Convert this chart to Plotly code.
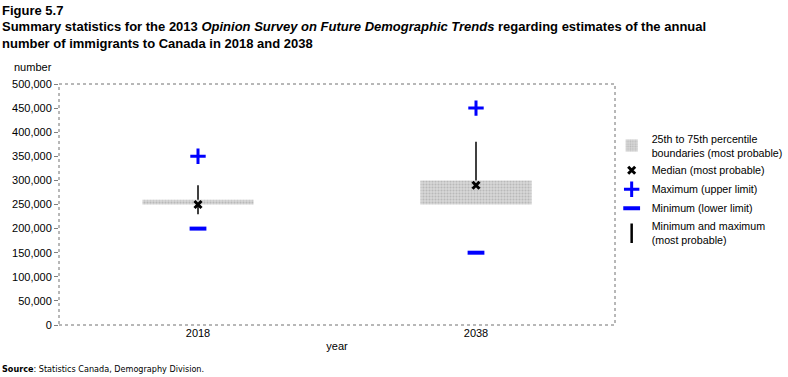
import plotly.graph_objects as go

years = ["2018", "2038"]
q25 = [250000, 250000]
q75 = [260000, 300000]
median = [250000, 290000]
mp_min = [230000, 250000]
mp_max = [290000, 380000]
upper_limit = [350000, 450000]
lower_limit = [200000, 150000]

yticks = list(range(0, 500001, 50000))
ytick_text = [f"{v:,}" for v in yticks]

font_main = "Liberation Sans, Arial, sans-serif"
font_title = "Liberation Sans, Arial, sans-serif"

fig = go.Figure()

# whiskers (min and max most probable), drawn outside the box
for i, yr in enumerate(years):
    if mp_max[i] > q75[i]:
        fig.add_trace(go.Scatter(x=[yr, yr], y=[q75[i], mp_max[i]], mode="lines",
                                 line=dict(color="black", width=1.5), showlegend=False,
                                 hoverinfo="skip"))
    if mp_min[i] < q25[i]:
        fig.add_trace(go.Scatter(x=[yr, yr], y=[mp_min[i], q25[i]], mode="lines",
                                 line=dict(color="black", width=1.5), showlegend=False,
                                 hoverinfo="skip"))

fig.add_trace(go.Bar(
    x=years, y=[b - a for a, b in zip(q25, q75)], base=q25, width=0.4,
    name="25th to 75th percentile<br>boundaries (most probable)",
    marker=dict(color="#d4d4d4", line=dict(width=0),
                pattern=dict(shape=".", fgcolor="#9a9a9a", bgcolor="#d8d8d8", size=3, solidity=0.4)),
))

fig.add_trace(go.Scatter(
    x=years, y=median, mode="markers", name="Median (most probable)",
    marker=dict(symbol="x-thin", size=7, color="black", line=dict(color="black", width=3)),
))
fig.add_trace(go.Scatter(
    x=years, y=upper_limit, mode="markers", name="Maximum (upper limit)",
    marker=dict(symbol="cross-thin", size=11, color="#0000ff", line=dict(color="#0000ff", width=3)),
))
fig.add_trace(go.Scatter(
    x=years, y=lower_limit, mode="markers", name="Minimum (lower limit)",
    marker=dict(symbol="line-ew", size=12, color="#0000ff", line=dict(color="#0000ff", width=4)),
))
fig.add_trace(go.Scatter(
    x=[None], y=[None], mode="markers", name="Minimum and maximum<br>(most probable)",
    marker=dict(symbol="line-ns", size=14, color="black", line=dict(color="black", width=2.5)),
))

fig.update_layout(
    width=788, height=377,
    margin=dict(l=59, r=173, t=84, b=52, autoexpand=False),
    paper_bgcolor="white", plot_bgcolor="white",
    font=dict(family=font_main, size=11, color="black"),
    showlegend=True,
    legend=dict(x=0.994, y=0.83, xanchor="left", yanchor="top",
                font=dict(family=font_main, size=10.7, color="black"),
                bgcolor="rgba(0,0,0,0)", tracegroupgap=0, itemwidth=30),
    xaxis=dict(type="category", categoryorder="array", categoryarray=years,
               range=[-0.5, 1.5], showgrid=False, zeroline=False, showline=False,
               ticks="", tickfont=dict(size=11), title=dict(text="year", font=dict(size=11), standoff=4)),
    yaxis=dict(range=[0, 500000], tickvals=yticks, ticktext=ytick_text, showgrid=False,
               zeroline=False, showline=False, ticks="outside", ticklen=4, tickcolor="#808080",
               tickfont=dict(size=11)),
    shapes=[dict(type="rect", xref="paper", yref="paper", x0=0, x1=1, y0=0, y1=1,
                 line=dict(color="#707070", width=1, dash="dot"), layer="above")],
    annotations=[
        dict(text="<b>Figure 5.7</b>", xref="paper", yref="paper", x=-59/556, y=1 + (84 - 1) / 241,
             xanchor="left", yanchor="top", showarrow=False, font=dict(family=font_title, size=13)),
        dict(text="<b>Summary statistics for the 2013 <i>Opinion Survey on Future Demographic Trends</i> regarding estimates of the annual<br>number of immigrants to Canada in 2018 and 2038</b>",
             xref="paper", yref="paper", x=-59/556, y=1 + (84 - 17) / 241, align="left",
             xanchor="left", yanchor="top", showarrow=False, font=dict(family=font_title, size=13)),
        dict(text="number", xref="paper", yref="paper", x=-47/556, y=1 + (84 - 59) / 241,
             xanchor="left", yanchor="top", showarrow=False, font=dict(size=11)),
        dict(text="<b>Source</b>: Statistics Canada, Demography Division.", xref="paper", yref="paper",
             x=-59/556, y=-(362 - 325) / 241, xanchor="left", yanchor="top", showarrow=False,
             font=dict(family="DejaVu Sans Condensed, DejaVu Sans, sans-serif", size=9)),
    ],
)

fig.write_html("out.html")
